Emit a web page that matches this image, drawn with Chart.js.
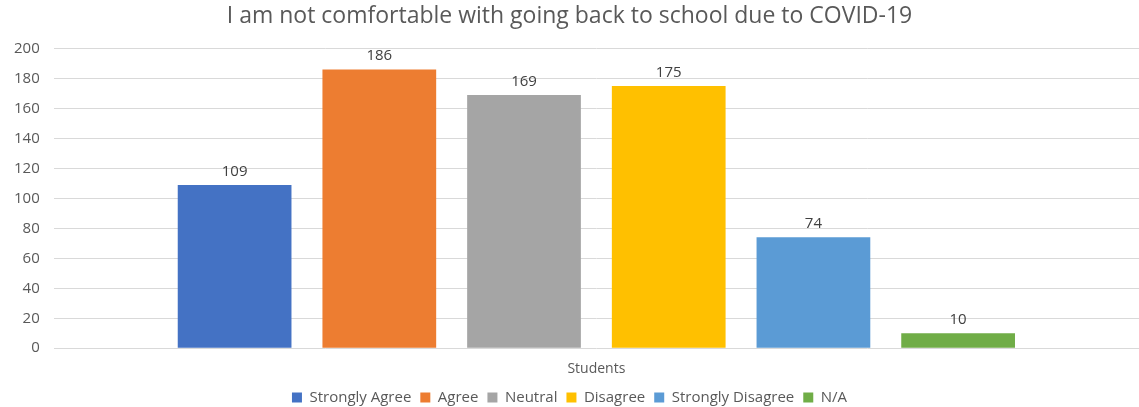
<!DOCTYPE html>
<html>
<head>
<meta charset="utf-8">
<script src="https://cdn.jsdelivr.net/npm/chart.js@4"></script>
<style>
  html, body { margin: 0; padding: 0; background: #fff; }
  #wrap { width: 1139px; height: 407px; }
</style>
</head>
<body>
<div id="wrap"><canvas id="chart" width="1139" height="407"></canvas></div>
<script>
// data
const categories = ['Students'];
const seriesNames = ['Strongly Agree', 'Agree', 'Neutral', 'Disagree', 'Strongly Disagree', 'N/A'];
const seriesValues = [109, 186, 169, 175, 74, 10];
const seriesColors = ['#4472C4', '#ED7D31', '#A5A5A5', '#FFC000', '#5B9BD5', '#70AD47'];
const yTicks = [0, 20, 40, 60, 80, 100, 120, 140, 160, 180, 200];

const textColor = '#595959';
const fontFamily = "'Open Sans', 'Liberation Sans', sans-serif";

// draws the value above every bar, like excel data labels
const valueLabels = {
    id: 'valueLabels',
    afterDatasetsDraw(chart) {
        const ctx = chart.ctx;
        ctx.save();
        ctx.font = '15px ' + fontFamily;
        ctx.fillStyle = '#404040';
        ctx.textAlign = 'center';
        ctx.textBaseline = 'bottom';
        chart.data.datasets.forEach((ds, i) => {
            const meta = chart.getDatasetMeta(i);
            meta.data.forEach((bar, j) => {
                ctx.fillText(ds.data[j], bar.x, bar.y - 6);
            });
        });
        ctx.restore();
    }
};

const datasets = seriesNames.map((name, i) => ({
    label: name,
    data: [seriesValues[i]],
    backgroundColor: seriesColors[i],
    barPercentage: 0.786,
    categoryPercentage: 0.80,
}));

new Chart(document.getElementById('chart'), {
    type: 'bar',
    data: { labels: categories, datasets: datasets },
    options: {
        responsive: false,
        animation: false,
        layout: { padding: { left: 0, right: 0, top: 3, bottom: -8 } },
        plugins: {
            title: {
                display: true,
                text: 'I am not comfortable with going back to school due to COVID-19',
                color: textColor,
                font: { family: fontFamily, size: 23, weight: 'normal' },
                padding: { top: 0, bottom: 18 },
            },
            legend: {
                position: 'bottom',
                labels: {
                    color: textColor,
                    font: { family: fontFamily, size: 15 },
                    boxWidth: 10,
                    boxHeight: 10,
                    padding: 9,
                },
            },
            tooltip: { enabled: false },
        },
        scales: {
            x: {
                grid: { display: false },
                border: { display: false },
                ticks: { color: textColor, font: { family: fontFamily, size: 14 }, padding: 4 },
            },
            y: {
                min: 0,
                max: 200,
                afterBuildTicks: (axis) => { axis.ticks = yTicks.map(v => ({ value: v })); },
                grid: { color: '#D9D9D9', drawTicks: false },
                border: { display: false },
                ticks: { color: textColor, font: { family: fontFamily, size: 15 }, padding: 14 },
            },
        },
    },
    plugins: [valueLabels],
});
</script>
</body>
</html>
